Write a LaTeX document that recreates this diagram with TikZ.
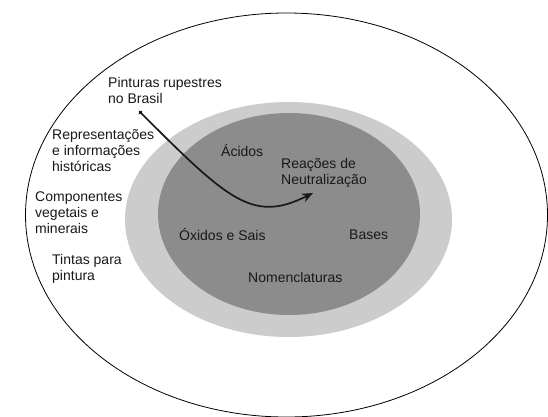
\documentclass[tikz,border=0pt]{standalone}
\usepackage{fontspec}
\setmainfont{Liberation Sans}
\usetikzlibrary{arrows.meta}
\definecolor{ringlight}{gray}{0.80}
\definecolor{ringdark}{gray}{0.55}
\definecolor{ink}{gray}{0.10}
\begin{document}
\begin{tikzpicture}[x=1pt,y=-1pt,
  label/.style={font=\fontsize{14}{16}\selectfont, text=ink, inner sep=0pt, align=left},
  flow/.style={line width=1.7pt, ink, {Circle[length=4pt]}-{Stealth[length=11pt,width=9pt]}}]
  \useasboundingbox (0,0) rectangle (548,417);
  \fill[white] (0,0) rectangle (548,417);

  % nested regions
  \draw[line width=0.8pt, black] (286.5,215) ellipse [x radius=261pt, y radius=202pt];
  \fill[ringlight] (288.5,219.5) ellipse [x radius=163.5pt, y radius=117.5pt];
  \fill[ringdark] (289,214) ellipse [x radius=131pt, y radius=101pt];

  % outer ring topics
  \node[label, anchor=west] (rupestres) at (108,90) {Pinturas rupestres\\no Brasil};
  \node[label, anchor=west] (historia) at (52,151) {Representações\\e informações\\históricas};
  \node[label, anchor=west] (componentes) at (35,212.5) {Componentes\\vegetais e\\minerais};
  \node[label, anchor=west] (tintas) at (52,268.5) {Tintas para\\pintura};

  % inner topics
  \node[label, anchor=base west] (acidos) at (221,156) {Ácidos};
  \node[label, anchor=west] (reacoes) at (281,173) {Reações de\\Neutralização};
  \node[label, anchor=base west] (oxidos) at (179,240) {Óxidos e Sais};
  \node[label, anchor=base west] (bases) at (349,239) {Bases};
  \node[label, anchor=base west] (nomenclaturas) at (248,282) {Nomenclaturas};

  % link from the historical theme into the chemistry core
  \coordinate (linkstart) at (139,111);
  \coordinate (linkend) at (313,193);
  \draw[flow] (linkstart) .. controls (229,201) and (253,223) .. (linkend);
\end{tikzpicture}
\end{document}
